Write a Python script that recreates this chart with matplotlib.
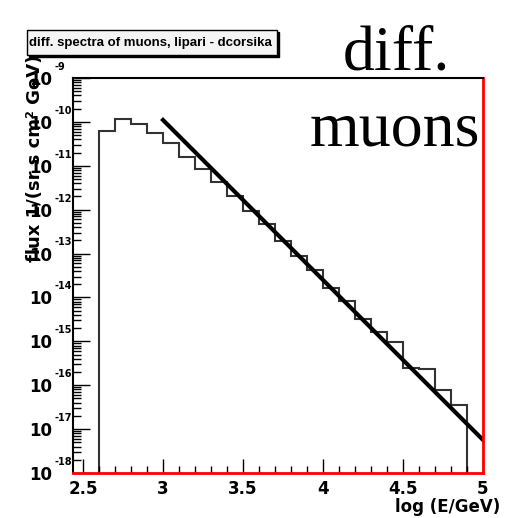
import matplotlib

matplotlib.use("Agg")
import matplotlib.pyplot as plt
import numpy as np
from matplotlib.patches import Rectangle

# histogram of the muon flux, bins of 0.1 in log(E/GeV)
bin_edges = [2.6, 2.7, 2.8, 2.9, 3.0, 3.1, 3.2, 3.3, 3.4, 3.5, 3.6, 3.7,
             3.8, 3.9, 4.0, 4.1, 4.2, 4.3, 4.4, 4.5, 4.6, 4.7, 4.8, 4.9]
log_flux = [-10.20, -9.94, -10.05, -10.25, -10.49, -10.79, -11.08, -11.36,
            -11.68, -12.04, -12.33, -12.71, -13.05, -13.37, -13.78, -14.08,
            -14.49, -14.79, -15.02, -15.60, -15.64, -16.11, -16.45]
flux = [10.0 ** v for v in log_flux]

# lipari parametrisation drawn on top
fit_x = [3.0, 5.0]
fit_flux = [10.0 ** -9.957, 10.0 ** -17.246]

decades = list(range(-18, -8))
x_ticks = [2.5, 3.0, 3.5, 4.0, 4.5, 5.0]
x_tick_labels = ["2.5", "3", "3.5", "4", "4.5", "5"]

W, H = 508, 518
fig = plt.figure(figsize=(W / 100, H / 100), dpi=100)
ax = fig.add_axes([73 / W, 1 - 473 / H, 410 / W, 395 / H])

ax.stairs(flux, bin_edges, baseline=1e-20, color="#333333", linewidth=1.5)
ax.plot(fit_x, fit_flux, color="black", linewidth=3)

ax.set_yscale("log")
ax.set_xlim(2.4375, 5.0)
ax.set_ylim(1e-18, 1e-9)

ax.set_xticks(x_ticks)
ax.set_xticklabels(x_tick_labels)
ax.set_xticks(np.arange(2.5, 5.0, 0.1), minor=True)
ax.set_yticks([10.0 ** e for e in decades])
ax.set_yticklabels(["10"] * len(decades))
ax.yaxis.set_minor_locator(matplotlib.ticker.LogLocator(base=10, subs=np.arange(2, 10)))
ax.yaxis.set_minor_formatter(matplotlib.ticker.NullFormatter())

ax.tick_params(axis="both", which="both", direction="in", width=1, colors="black")
ax.tick_params(axis="y", which="major", length=12, pad=15)
ax.tick_params(axis="y", which="minor", length=6)
ax.tick_params(axis="x", which="major", length=10, pad=5)
ax.tick_params(axis="x", which="minor", length=5)
for label in ax.get_xticklabels() + ax.get_yticklabels():
    label.set_fontweight("bold")
    label.set_fontsize(12)

for e in decades:
    ax.annotate(str(e), xy=(0, 10.0 ** e), xycoords=("axes fraction", "data"),
                xytext=(-13, 8), textcoords="offset points", fontsize=7,
                fontweight="bold", ha="left", va="center")

ax.spines["top"].set_linewidth(1.5)
ax.spines["left"].set_linewidth(1.5)
ax.spines["bottom"].set_color("red")
ax.spines["bottom"].set_linewidth(2)
ax.spines["right"].set_color("red")
ax.spines["right"].set_linewidth(2)

ax.set_ylabel("flux 1/(sr s cm² GeV)", fontsize=13, fontweight="bold", loc="top")
ax.yaxis.set_label_coords(-0.093, 1.058)
ax.yaxis.label.set_va("center")

fig.text(500 / W, 1 - 507 / H, "log (E/GeV)", fontsize=12, fontweight="bold",
         ha="right", va="center")

# title box in the ROOT style, with a shadow
fig.patches.append(Rectangle((29 / W, 1 - 57 / H), 250 / W, 25 / H, transform=fig.transFigure,
                             facecolor="black", edgecolor="black", zorder=1))
fig.patches.append(Rectangle((27 / W, 1 - 55 / H), 250 / W, 25 / H, transform=fig.transFigure,
                             facecolor="#f4f4f4", edgecolor="black", linewidth=1, zorder=2))
fig.text(29 / W, 1 - 43 / H, "diff. spectra of muons, lipari - dcorsika", fontsize=9.5,
         fontweight="bold", family="Liberation Sans", ha="left", va="center", zorder=3)

fig.text(396 / W, 1 - 70 / H, "diff.", family="Liberation Serif", fontsize=46,
         ha="center", va="baseline")
fig.text(395 / W, 1 - 145 / H, "muons", family="Liberation Serif", fontsize=46,
         ha="center", va="baseline")

fig.savefig("out.png", dpi=100)
